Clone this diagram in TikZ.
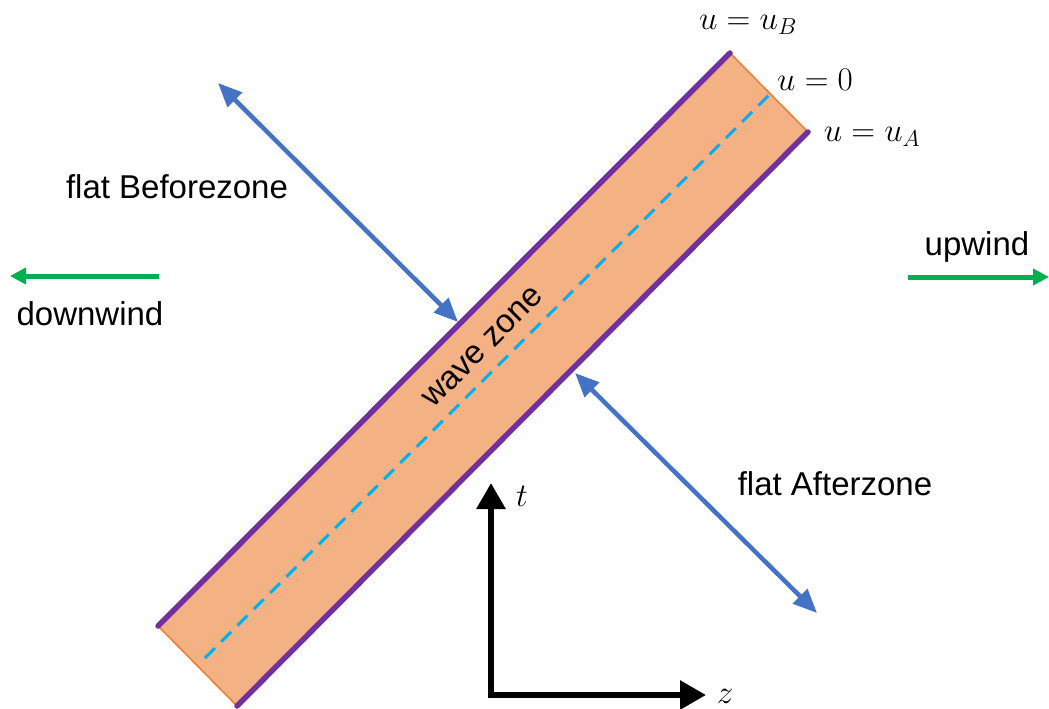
\RequirePackage{fix-cm}
\documentclass[tikz,border=0pt]{standalone}
\usepackage{fontspec}
\setmainfont{Liberation Sans}
\usetikzlibrary{arrows.meta}
\definecolor{bandfill}{HTML}{F4B183}
\definecolor{bandedge}{HTML}{7030A0}
\definecolor{bandend}{HTML}{ED7D31}
\definecolor{midline}{HTML}{00B0F0}
\definecolor{blu}{HTML}{4472C4}
\definecolor{grn}{HTML}{00B050}
\tikzset{
  lbl/.style={inner sep=0pt, font=\fontsize{33}{39}\selectfont},
  mathlbl/.style={inner sep=0pt, font=\fontsize{33}{39}\selectfont},
  bluearrow/.style={blu, line width=4.5pt, {Triangle[length=24pt,width=20pt]}-{Triangle[length=24pt,width=20pt]}},
  windarrow/.style={grn, line width=5pt, -{Triangle[length=16pt,width=16pt]}},
  axisarrow/.style={black, line width=6pt, line join=miter, {Triangle[length=26pt,width=28pt]}-{Triangle[length=26pt,width=28pt]}},
  edgeline/.style={bandedge, line width=5.5pt, line cap=round},
  endline/.style={bandend, line width=1.5pt},
  midlinestyle/.style={midline, line width=3pt, dash pattern=on 14pt off 9pt}
}
\begin{document}
\begin{tikzpicture}[x=1pt,y=-1pt]
\useasboundingbox (0,0) rectangle (1049,709);
% band
\coordinate (A) at (158,626);
\coordinate (B) at (730,53);
\coordinate (C) at (808,132);
\coordinate (D) at (237,706);
\fill[bandfill] (A)--(B)--(C)--(D)--cycle;
\draw[endline] (A)--(D);
\draw[endline] (B)--(C);
\draw[edgeline] (A)--(B);
\draw[edgeline] (D)--(C);
\coordinate (m1) at (205,658);
\coordinate (m2) at (771,93);
\draw[midlinestyle] (m1)--(m2);
\node[lbl, rotate=45] (wave) at (483,347) {wave zone};
% math labels
\node[mathlbl] (uB) at (748,25) {$u=u_B$};
\node[mathlbl] (u0) at (815,80) {$u=0$};
\node[mathlbl] (uA) at (872,137) {$u=u_A$};
% blue arrows
\coordinate (b1) at (218,83);
\coordinate (b2) at (458,322);
\draw[bluearrow] (b1)--(b2);
\coordinate (c1) at (575,373);
\coordinate (c2) at (817,613);
\draw[bluearrow] (c1)--(c2);
\node[lbl] (before) at (177,187) {flat Beforezone};
\node[lbl] (after) at (835,484) {flat Afterzone};
% wind arrows
\coordinate (w1) at (159,276);
\coordinate (w2) at (10,276);
\draw[windarrow] (w1)--(w2);
\node[lbl] (down) at (90,314) {downwind};
\coordinate (e1) at (908,277);
\coordinate (e2) at (1049,277);
\draw[windarrow] (e1)--(e2);
\node[lbl] (up) at (977,247) {upwind};
% axes
\coordinate (tt) at (491,483);
\coordinate (O) at (491,695);
\coordinate (zz) at (706,695);
\draw[axisarrow] (tt)--(O)--(zz);
\node[mathlbl] (tl) at (522,496) {$t$};
\node[mathlbl] (zl) at (725,696) {$z$};
\end{tikzpicture}
\end{document}
